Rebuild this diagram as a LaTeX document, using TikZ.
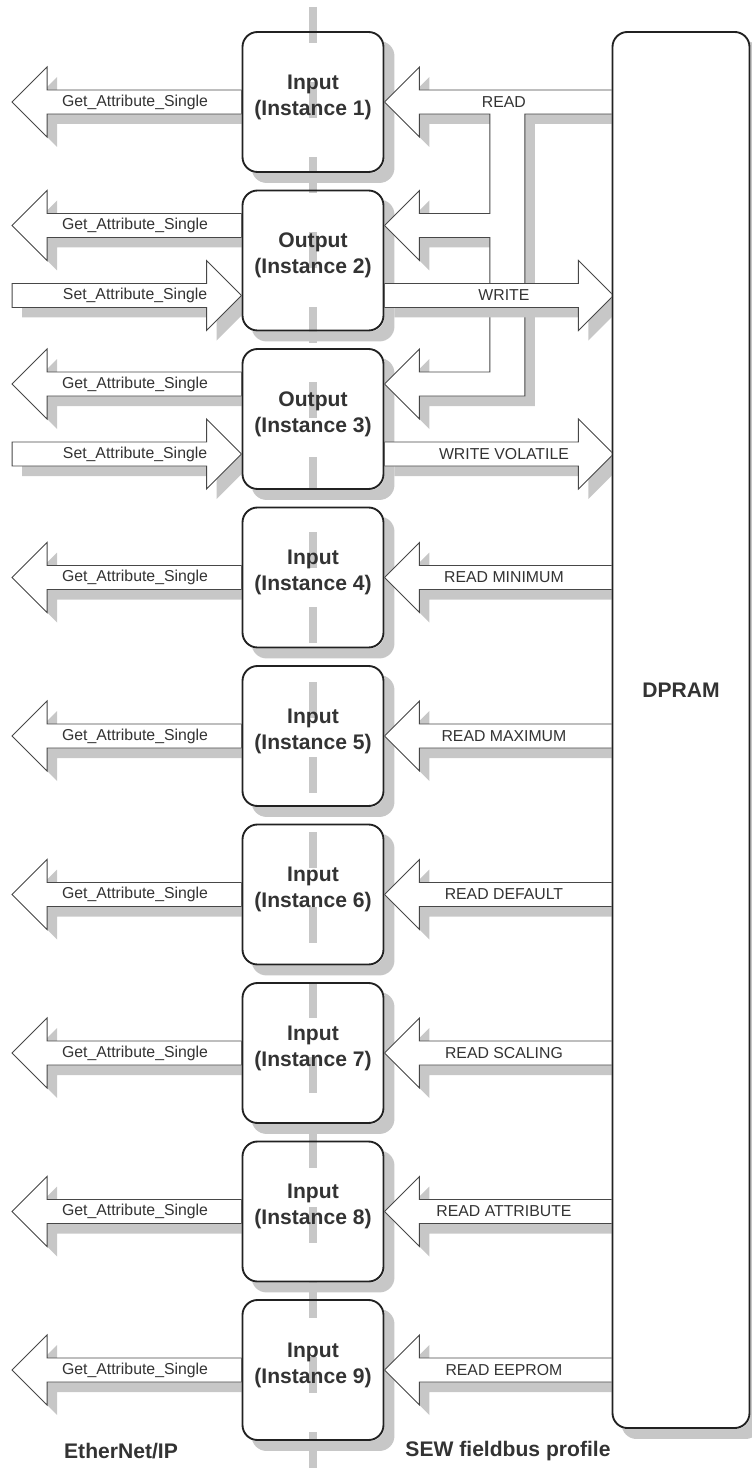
\documentclass[tikz,border=0pt]{standalone}
\usepackage{fontspec}
\setmainfont{Liberation Sans}
\definecolor{fillS}{rgb}{0.78,0.78,0.78}
\definecolor{lineK}{rgb}{0.13,0.13,0.13}
\definecolor{lineA}{rgb}{0.28,0.28,0.28}
\definecolor{textK}{rgb}{0.2,0.2,0.2}
\pgfdeclarelayer{bg}
\pgfsetlayers{bg,main}

\begin{document}
\begin{tikzpicture}[x=0.03cm, y=-0.03cm,
  inst/.style={draw=lineK, line width=1.6pt, rounded corners=0.45cm,
    minimum width=4.23cm, minimum height=4.2cm, inner sep=0pt, text depth=12pt,
    align=center, font=\fontsize{18}{22}\selectfont\bfseries, text=textK},
  blk/.style={draw=lineA, line width=0.8pt, fill=white,
    preaction={fill=fillS, transform canvas={xshift=0.3cm, yshift=-0.3cm}}},
  alab/.style={font=\fontsize{13.5}{15}\selectfont, text=textK, inner sep=0pt},
  blab/.style={font=\fontsize{18}{22}\selectfont\bfseries, text=textK}]
\useasboundingbox (0,0) rectangle (751,1468);
% 实例方框与 DPRAM
\foreach \k/\t in {1/Input,2/Output,3/Output,4/Input,5/Input,6/Input,7/Input,8/Input,9/Input}
  \node[inst] (i\k) at (313,{102+158.5*(\k-1)}) {\t\\(Instance \k)};
\node[draw=lineK, line width=1.6pt, rounded corners=0.45cm, minimum width=4.11cm,
  minimum height=41.88cm, inner sep=0pt] (dp) at (681,730) {};
\node[blab] (dplab) at (681,690) {DPRAM};
\node[blab] (eip) at (121,1451) {EtherNet/IP};
\node[blab] (sew) at (508,1451) {SEW fieldbus profile};

\begin{pgfonlayer}{bg}
% 方框阴影
\foreach \k in {1,...,9}
  \fill[fillS, rounded corners=0.45cm] ([shift={(10,10)}]i\k.north west) rectangle ([shift={(10,10)}]i\k.south east);
\fill[fillS, rounded corners=0.45cm] ([shift={(10,10)}]dp.north west) rectangle ([shift={(10,10)}]dp.south east);
% 左侧 Get / Set 箭头
\foreach \k/\dy in {1/0,2/-35,3/-35,4/0,5/0,6/0,7/0,8/0,9/0}{
  \draw[blk] ([shift={(0,\dy-12)}]i\k.west) -- ++(-194.5,0) -- ++(0,-23) -- ++(-35,35)
    -- ++(35,35) -- ++(0,-23) -- ++(194.5,0) -- cycle;
  \node[alab] (g\k) at ([shift={(-106.5,\dy)}]i\k.west) {Get\_Attribute\_Single};
}
\foreach \k in {2,3}{
  \draw[blk] ([shift={(0,35)}]i\k.west) -- ++(-35,35) -- ++(0,-23) -- ++(-194.5,0)
    -- ++(0,-24) -- ++(194.5,0) -- ++(0,-23) -- cycle;
  \node[alab] (s\k) at ([shift={(-106.5,35)}]i\k.west) {Set\_Attribute\_Single};
}
% READ：分支到实例 2、3
\draw[blk] (i1.east) -- ++(35,-35) -- ++(0,23) -- ++(194,0) -- ++(0,24) -- ++(-88.5,0)
  -- ++(0,282) -- ++(-105.5,0) -- ++(0,23) -- ++(-35,-35) -- ++(35,-35) -- ++(0,23)
  -- ++(70.5,0) -- ++(0,-134.5) -- ++(-70.5,0) -- ++(0,23) -- ++(-35,-35) -- ++(35,-35)
  -- ++(0,23) -- ++(70.5,0) -- ++(0,-99.5) -- ++(-70.5,0) -- ++(0,23) -- cycle;
\node[alab] (r1) at ([shift={(119.5,0)}]i1.east) {READ};
% WRITE 箭头
\foreach \k/\t in {2/WRITE,3/WRITE VOLATILE}{
  \draw[blk] ([shift={(0,23)}]i\k.east) -- ++(194,0) -- ++(0,-23) -- ++(35,35)
    -- ++(-35,35) -- ++(0,-23) -- ++(-194,0) -- cycle;
  \node[alab] (w\k) at ([shift={(119.5,35)}]i\k.east) {\t};
}
% 其余 READ 箭头
\foreach \k/\t in {4/READ MINIMUM,5/READ MAXIMUM,6/READ DEFAULT,7/READ SCALING,8/READ ATTRIBUTE,9/READ EEPROM}{
  \draw[blk] (i\k.east) -- ++(35,-35) -- ++(0,23) -- ++(194,0) -- ++(0,24) -- ++(-194,0)
    -- ++(0,23) -- cycle;
  \node[alab] (r\k) at ([shift={(119.5,0)}]i\k.east) {\t};
}
% 方框底色
\foreach \k in {1,...,9}
  \fill[white, rounded corners=0.45cm] (i\k.north west) rectangle (i\k.south east);
\fill[white, rounded corners=0.45cm] (dp.north west) rectangle (dp.south east);
% 灰色虚线
\draw[fillS, line width=0.24cm, dash pattern=on 1.08cm off 1.17cm] (i1 |- 0,7) -- (i9 |- 0,1468);
\end{pgfonlayer}
\end{tikzpicture}
\end{document}
